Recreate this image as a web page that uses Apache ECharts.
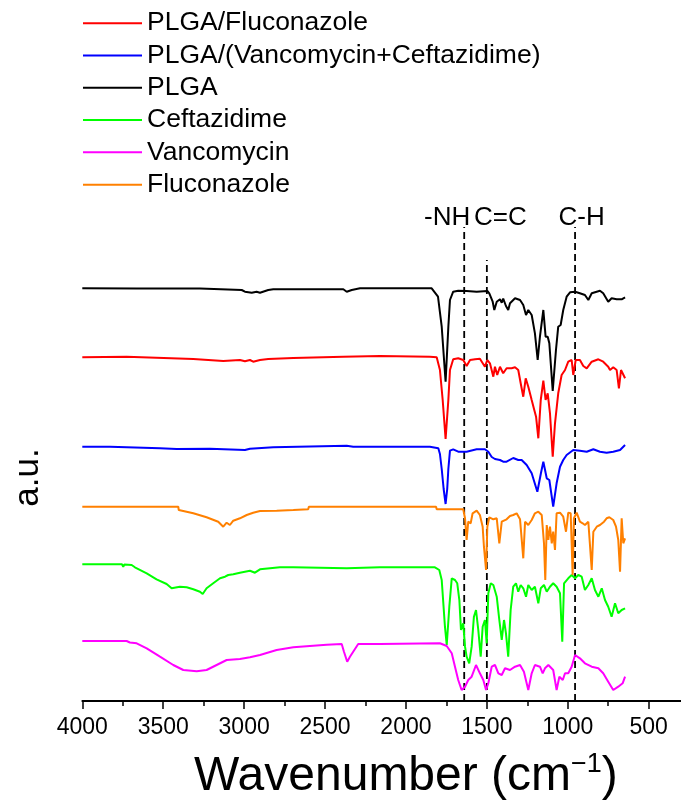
<!DOCTYPE html>
<html><head><meta charset="utf-8">
<script src="https://cdn.jsdelivr.net/npm/echarts@6/dist/echarts.min.js"></script>
<style>html,body{margin:0;padding:0;background:#fff}#c{width:681px;height:805px}</style>
</head><body><div id="c"></div>
<script>
// Spectra: [wavenumber (cm-1), intensity (a.u., offset already included)]
const plga = [[4000,412.7],[3662,412.5],[3273,412.5],[3015,411],[2995,409.3],[2953,408.3],[2923,409.3],[2902,408.3],[2851,411],[2820,411.7],[2387,411.7],[2366,409.3],[2335,411],[2284,412.7],[1841,412.7],[1833,411],[1802,404.3],[1779,374.3],[1755,319.3],[1738,374.3],[1728,401],[1708,409.3],[1677,410.3],[1625,410],[1563,409.3],[1497,410],[1485,407.7],[1464,399.3],[1454,391],[1439,399.3],[1419,401.7],[1408,398.3],[1399,402.3],[1382,395],[1368,391],[1357,397.7],[1326,402.7],[1295,401],[1275,396],[1258,386],[1244,391],[1223,386],[1203,367.7],[1186,341],[1172,364.3],[1151,391],[1137,364.3],[1124,364.3],[1114,357.7],[1093,310],[1073,351],[1059,374.3],[1044,376],[1028,391],[1007,404.3],[986,408.7],[955,409.3],[925,407.7],[894,406],[873,401],[852,407.7],[801,410.3],[781,407.7],[750,399.3],[729,402.7],[698,401.7],[667,401.7],[646,403.7]];

const plgaFluconazole = [[4000,343.7],[3726,344.3],[3314,342],[3129,340],[3026,341],[2995,339.7],[2964,341],[2944,339.3],[2902,341],[2851,342],[2696,343],[2387,344.3],[2161,345],[1852,344.3],[1810,343.7],[1790,331],[1773,301],[1755,262],[1738,301],[1728,331],[1708,341.7],[1677,342.7],[1646,341],[1625,335],[1604,341],[1573,341.7],[1543,342.3],[1512,334.3],[1497,341],[1481,337.7],[1460,324.3],[1450,334.3],[1436,326],[1419,334.3],[1399,327.7],[1378,332.7],[1347,332.7],[1326,333.7],[1306,331],[1291,317.7],[1275,304.3],[1260,322.7],[1244,314.3],[1223,301],[1207,291],[1196,284.3],[1182,262.7],[1167,301],[1151,320.3],[1137,301],[1124,307.7],[1110,287.7],[1093,244.3],[1079,277.7],[1059,307.7],[1038,326],[1017,331],[997,339.3],[976,341],[966,326],[951,341],[925,341],[904,335],[883,332.7],[852,339.3],[811,341.7],[781,339.3],[750,334.3],[739,331],[719,333.7],[698,331],[684,312.7],[671,331],[661,327.7],[646,322.7]];

const plgaVancCef = [[4000,254.3],[3829,254.3],[3520,252.7],[3417,252],[3211,252.3],[2995,251],[2964,252.3],[2820,253.7],[2366,255.3],[2326,254.3],[2161,254.3],[1852,254.3],[1800,252.7],[1790,247],[1779,232],[1767,212],[1755,197],[1745,212],[1738,232],[1728,250.3],[1708,251.7],[1677,249.3],[1625,249.3],[1563,251.7],[1512,251.7],[1491,249.3],[1470,244],[1450,242],[1419,241],[1399,239.3],[1378,239.3],[1337,243],[1306,241],[1285,241],[1254,236],[1223,227.7],[1188,209.3],[1166,227.7],[1151,239.3],[1130,222.7],[1114,221],[1090,194.3],[1069,217.7],[1048,234.3],[1028,241],[1007,246],[966,251],[925,250.3],[883,249.3],[842,251.7],[801,249.3],[760,248.3],[719,249.3],[677,251],[646,256]];

const fluconazole = [[4000,194.3],[3407,194.3],[3404,191],[3314,187.7],[3232,183.7],[3160,179.3],[3129,174.3],[3108,178.3],[3088,176],[3067,180.3],[3026,182.7],[2984,186],[2944,188.3],[2902,190],[2799,190.3],[2696,191],[2604,191.7],[2600,194.3],[1814,194.3],[1810,191.7],[1646,191.7],[1635,182.7],[1625,161],[1615,179.3],[1600,177.7],[1588,187.7],[1563,190.3],[1543,186],[1526,174.3],[1518,154.3],[1505,131],[1497,174.3],[1485,183.7],[1460,181.7],[1439,182.7],[1423,157.7],[1408,179.3],[1378,181.7],[1357,185],[1337,186],[1316,187.7],[1295,181.7],[1275,142.7],[1264,179.3],[1244,176],[1223,181],[1203,187.7],[1182,189.3],[1161,186],[1147,157.7],[1139,121],[1130,176],[1120,161],[1110,174.3],[1099,157.7],[1090,169.3],[1079,151],[1069,187.7],[1048,188.3],[1028,184.3],[1011,169.3],[997,188.3],[982,187.7],[970,126],[962,182.7],[945,188.3],[925,179.3],[908,177.7],[894,176],[873,179.3],[852,131],[842,169.3],[821,174.3],[801,176],[776,179.3],[760,182.7],[743,183.7],[719,181],[702,174.3],[688,161],[677,129.3],[667,182.7],[657,157.7],[646,162.7]];

const ceftazidime = [[4000,136.7],[3755,136.7],[3747,134.3],[3740,136.5],[3695,136],[3675,133.7],[3602,127.7],[3541,121.7],[3479,117],[3448,112.7],[3397,114.3],[3355,113.7],[3314,111.7],[3273,109.3],[3256,107],[3232,112.7],[3191,117.7],[3149,122.7],[3118,124.3],[3098,126],[3067,126.7],[3026,128.3],[2964,130.3],[2933,128.3],[2902,131.7],[2840,132.7],[2779,133.7],[2696,133.7],[2366,132.7],[2161,133.7],[1821,133.7],[1794,131],[1779,121],[1759,74.3],[1748,56],[1732,94.3],[1717,122.7],[1697,121],[1683,117.7],[1670,101],[1660,71],[1646,77.7],[1635,54.3],[1625,44.3],[1609,37.7],[1594,54.3],[1580,84.3],[1567,91],[1553,71],[1538,44.3],[1526,74.3],[1512,81],[1501,57.7],[1491,107.7],[1476,117.7],[1460,116],[1439,104.3],[1423,81],[1408,61],[1394,81],[1382,67.7],[1368,44.3],[1353,91],[1337,114.3],[1320,117.7],[1306,109.3],[1291,116],[1275,112.7],[1258,104.3],[1244,116],[1223,111],[1203,114.3],[1182,97.7],[1167,112.7],[1147,116],[1130,109.3],[1110,114.3],[1090,117.7],[1069,114.3],[1048,107.7],[1034,59.3],[1023,117.7],[997,122.7],[976,126],[955,122.7],[935,126],[914,124.3],[894,111],[873,116],[852,122.7],[832,111],[811,104.3],[790,112.7],[770,101],[750,94.3],[729,84.3],[708,97.7],[688,87.7],[667,91],[646,92.7]];

const vancomycin = [[4000,60],[3747,60],[3740,58],[3726,60],[3706,58.5],[3664,57.7],[3602,52.7],[3520,44.3],[3438,36],[3376,31],[3293,29.7],[3232,31],[3170,36],[3108,41],[3026,42],[2964,43.7],[2902,46],[2799,51],[2696,53.7],[2573,55.3],[2490,56.3],[2397,57],[2383,49.3],[2363,39.3],[2346,44.3],[2326,49.3],[2295,57],[2161,57],[1790,57.7],[1748,55],[1717,47.7],[1697,34.3],[1677,21],[1656,11],[1635,14.3],[1615,21],[1594,24.3],[1567,36],[1543,27.7],[1522,21],[1505,11],[1491,17.7],[1470,34.3],[1450,36],[1429,27.7],[1408,26],[1388,32.7],[1357,31],[1326,34.3],[1295,36],[1271,29.3],[1244,11],[1223,27.7],[1203,36],[1172,34.3],[1155,27.7],[1141,32.7],[1120,36],[1090,31],[1069,11],[1052,24.3],[1031,21],[1017,27.7],[997,27.7],[976,34.3],[955,46],[925,42.7],[894,37.7],[852,34.3],[811,32.7],[781,27.7],[750,19.3],[719,11],[688,14.3],[661,17.7],[646,24.3]];

const seriesNames = ['PLGA/Fluconazole','PLGA/(Vancomycin+Ceftazidime)','PLGA','Ceftazidime','Vancomycin','Fluconazole'];
const seriesData = [plgaFluconazole, plgaVancCef, plga, ceftazidime, vancomycin, fluconazole];
const seriesColors = ['#ff0000','#0000ff','#000000','#00ff00','#ff00ff','#ff8000'];

const peakWavenumbers = [1640, 1500, 955];
const peakLabels = ['-NH', 'C=C', 'C-H'];
const xTickLabels = [4000, 3500, 3000, 2500, 2000, 1500, 1000, 500];

// styling / placement
const FONT = '"Liberation Sans", Arial, sans-serif';
const peakLineTops = [474, 441, 474];
const peakLabelY = 483;
const peakLabelDx = [-17, 13.5, 6.5];

const chart = echarts.init(document.getElementById('c'), null, {renderer: 'canvas'});

const series = seriesNames.map((n, i) => ({
  name: n, type: 'line', data: seriesData[i], showSymbol: false, symbol: 'none',
  lineStyle: {color: seriesColors[i], width: 2}, itemStyle: {color: seriesColors[i]},
  z: 3, silent: true
}));
peakWavenumbers.forEach((w, i) => {
  series.push({
    type: 'line', data: [[w, 0], [w, peakLineTops[i]]], symbol: 'none', clip: false, silent: true, z: 2,
    lineStyle: {color: '#000', width: 1.8, type: [7, 4]}
  });
});
series.push({
  type: 'scatter', symbolSize: 0, clip: false, silent: true, z: 5,
  itemStyle: {opacity: 1, color: '#000'},
  data: peakWavenumbers.map((w, i) => ({name: peakLabels[i], value: [w, peakLabelY], label: {offset: [peakLabelDx[i], 0]}})),
  label: {show: true, position: [0, 0], align: 'center', verticalAlign: 'middle', formatter: '{b}',
          fontSize: 26, color: '#000', opacity: 1, textBorderWidth: 0, fontFamily: FONT}
});

chart.setOption({
  animation: false,
  backgroundColor: '#fff',
  legend: {
    data: seriesNames, orient: 'vertical', left: 83, top: 7, padding: 0,
    icon: 'rect', itemWidth: 59, itemHeight: 2, itemGap: 0,
    textStyle: {fontSize: 26.5, lineHeight: 32.3, color: '#000', fontFamily: FONT}
  },
  grid: {left: 82.3, right: -48.6, top: 254, bottom: 104, containLabel: false, outerBoundsMode: 'none'},
  xAxis: {
    type: 'value', inverse: true, min: 0, max: 4000, interval: 500,
    axisLine: {show: true, onZero: false, lineStyle: {color: '#000', width: 1.8}},
    axisTick: {show: true, length: 8, lineStyle: {color: '#000', width: 1.5}},
    minorTick: {show: true, splitNumber: 2, length: 5, lineStyle: {color: '#000', width: 1.5}},
    splitLine: {show: false}, minorSplitLine: {show: false},
    axisLabel: {
      show: true, margin: 15, fontSize: 23, color: '#000', fontFamily: FONT,
      formatter: v => (xTickLabels.indexOf(v) >= 0 ? String(v) : '')
    },
    name: '{a|Wavenumber (cm}{b|\u22121}{a|)}',
    nameLocation: 'middle', nameGap: 50,
    nameTextStyle: {
      fontFamily: FONT, color: '#000',
      rich: {
        a: {fontSize: 48, lineHeight: 48, padding: [4, 0, 0, 0], color: '#000', fontFamily: FONT},
        b: {fontSize: 27, lineHeight: 27, verticalAlign: 'top', color: '#000', fontFamily: FONT}
      }
    }
  },
  yAxis: {
    type: 'value', min: 0, max: 447,
    axisLine: {show: true, lineStyle: {color: '#000', width: 1.8}},
    axisTick: {show: false}, axisLabel: {show: false}, splitLine: {show: false},
    name: 'a.u.', nameLocation: 'middle', nameGap: 36,
    nameTextStyle: {fontSize: 35, color: '#000', fontFamily: FONT}
  },
  series: series
});
</script>
</body></html>
